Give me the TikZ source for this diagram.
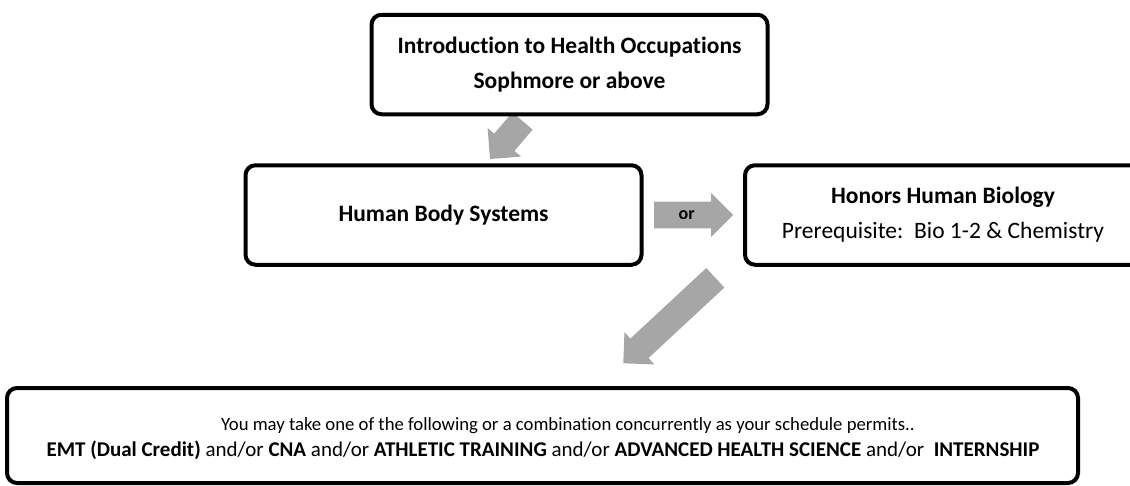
\documentclass[tikz,border=0pt]{standalone}
\usepackage{fontspec}
\setmainfont{Carlito}[Ligatures=NoCommon]
\usetikzlibrary{calc}
\def\grayarrow(#1)(#2){
	\coordinate (neck) at ($(#2)!22pt!(#1)$);
	\fill[black!35] ($(#1)!13.3pt!90:(#2)$) -- ($(neck)!13.3pt!-90:(#1)$) -- ($(neck)!22pt!-90:(#1)$) -- (#2) -- ($(neck)!22pt!90:(#1)$) -- ($(neck)!13.3pt!90:(#1)$) -- ($(#1)!13.3pt!-90:(#2)$) -- cycle;}
\tikzset{
	coursebox/.style={draw, line width=4pt, rounded corners=10pt, fill=white, minimum width=396pt, minimum height=99.5pt, align=center, inner sep=0pt, font=\fontsize{23.5}{35}\selectfont},
}

\begin{document}
\begin{tikzpicture}[x=1pt, y=-1pt]
			%%%%% START %%%%%
			
			\clip (0, 0) rectangle (1130, 485);
			
			\coordinate (t1) at (522.5, 121);
			\coordinate (p1) at (490, 159);
			\grayarrow(t1)(p1);
			
			\node[coursebox] (intro) at (569.5, 64.5) {\textbf{Introduction to Health Occupations}\\\textbf{Sophmore or above}};
			
			\node[coursebox] (body) at (443.5, 215) {\textbf{Human Body Systems}};
			\node[coursebox] (honors) at (943, 215) {\textbf{Honors Human Biology}\\Prerequisite:\ \ Bio 1-2 \& Chemistry};
			
			\coordinate (t2) at (654, 215);
			\coordinate (p2) at (733, 215);
			\grayarrow(t2)(p2);
			\node[font=\fontsize{18}{20}\selectfont\bfseries] (or) at (686.7, 215) {or};
			
			\coordinate (t3) at (715.3, 277.8);
			\coordinate (p3) at (623.3, 363.3);
			\grayarrow(t3)(p3);
			
			\node[coursebox, minimum width=1071pt, minimum height=95pt] (options) at (542.5, 435.5) {};
			\node[align=center, font=\fontsize{18.7}{26}\selectfont] (optionstext) at (543, 439) {\hspace*{50pt}You may take one of the following or a combination concurrently as your schedule permits..\\\fontsize{21}{26}\selectfont\textbf{EMT (Dual Credit)} and/or \textbf{CNA} and/or \textbf{ATHLETIC TRAINING} and/or \textbf{ADVANCED HEALTH SCIENCE} and/or\ \ \textbf{INTERNSHIP}};
			
			%%%%% END %%%%%
\end{tikzpicture}
\end{document}
